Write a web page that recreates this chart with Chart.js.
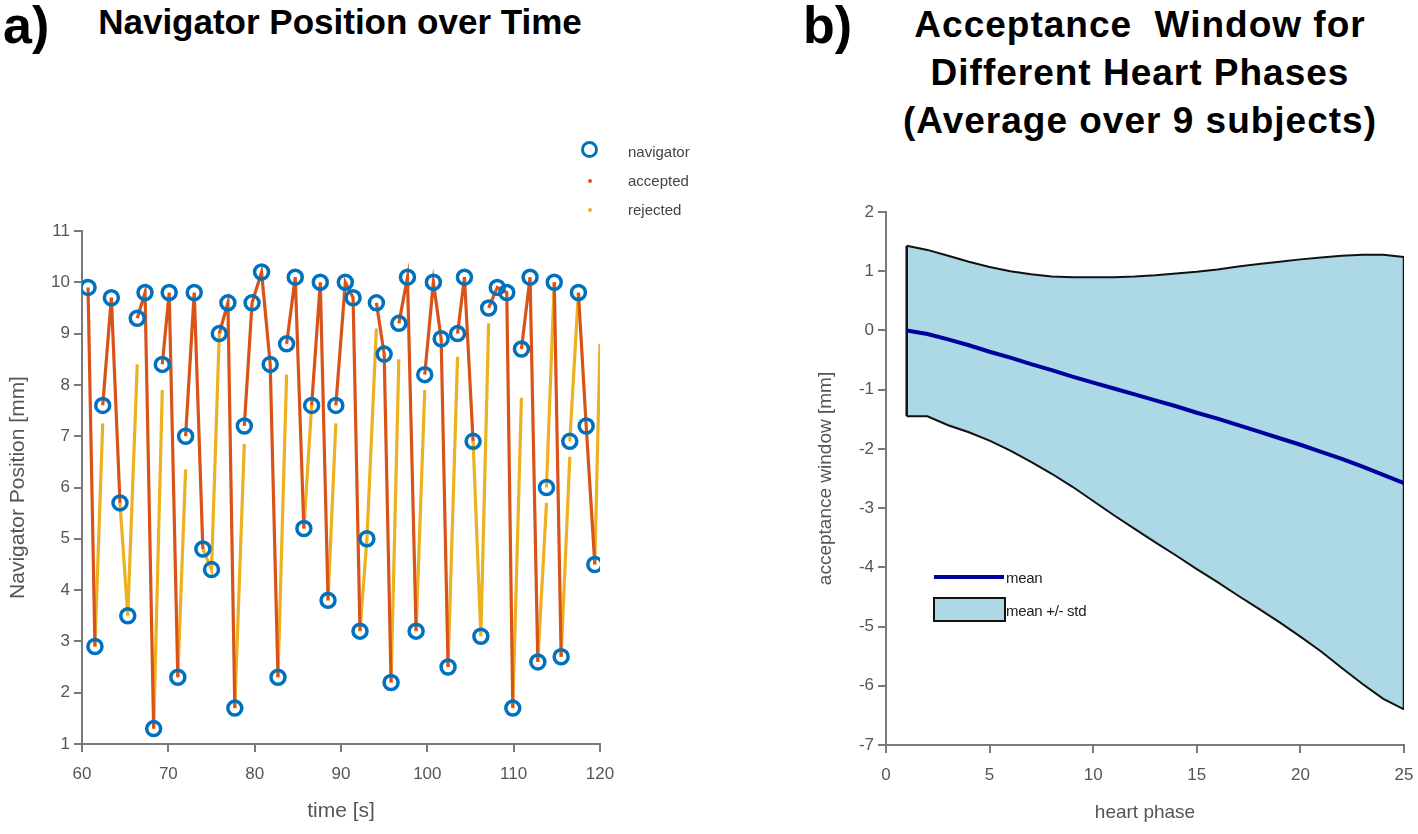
<!DOCTYPE html>
<html>
<head>
<meta charset="utf-8">
<script src="https://cdn.jsdelivr.net/npm/chart.js@4.4.1/dist/chart.umd.min.js"></script>
<style>
  html, body { margin: 0; padding: 0; background: #fff; }
  body { width: 1418px; height: 834px; position: relative; overflow: hidden; font-family: "Liberation Sans", Arial, sans-serif; }
  .abs { position: absolute; }
  .panel { font-weight: bold; font-size: 52px; color: #000; line-height: 1; }
  .title { font-weight: bold; color: #000; text-align: center; line-height: 48px; white-space: pre; }
  .lg { font-size: 15px; color: #444; line-height: 1; white-space: pre; }
  .lg2 { font-family: "Liberation Sans Narrow", "Liberation Sans", Arial, sans-serif; font-size: 15px; color: #222; line-height: 1; white-space: pre; letter-spacing: -0.3px; }
</style>
</head>
<body>
<script>
// ---------- Panel a) data ----------
const navTime = [60.7,61.5,62.4,63.4,64.4,65.3,66.4,67.3,68.3,69.3,70.1,71.1,72.0,73.0,74.0,75.0,75.9,76.9,77.7,78.8,79.7,80.8,81.8,82.7,83.7,84.7,85.7,86.6,87.6,88.5,89.4,90.5,91.4,92.2,93.0,94.1,95.0,95.8,96.7,97.7,98.7,99.7,100.7,101.6,102.4,103.5,104.3,105.3,106.2,107.1,108.1,109.2,109.9,110.9,111.9,112.8,113.8,114.7,115.5,116.5,117.5,118.4,119.4];
const navPos  = [9.9,2.9,7.6,9.7,5.7,3.5,9.3,9.8,1.3,8.4,9.8,2.3,7.0,9.8,4.8,4.4,9.0,9.6,1.7,7.2,9.6,10.2,8.4,2.3,8.8,10.1,5.2,7.6,10.0,3.8,7.6,10.0,9.7,3.2,5.0,9.6,8.6,2.2,9.2,10.1,3.2,8.2,10.0,8.9,2.5,9.0,10.1,6.9,3.1,9.5,9.9,9.8,1.7,8.7,10.1,2.6,6.0,10.0,2.7,6.9,9.8,7.2,4.5];

// accepted line pieces (null = break)
const acceptedTime = [60.7,61.5,null, 62.4,63.4,64.4,null, 66.4,67.3,68.3,null, 69.3,70.1,71.1,null, 72.0,73.0,74.0,null, 75.9,76.9,77.7,null, 78.8,79.7,80.8,81.8,82.7,null, 83.7,84.7,85.7,null, 86.6,87.6,88.5,null, 89.4,90.5,91.4,92.2,null, 94.1,95.0,95.8,null, 96.7,97.7,98.7,null, 99.7,100.7,101.6,102.4,null, 103.5,104.3,105.3,null, 107.1,108.1,109.2,109.9,null, 110.9,111.9,112.8,null, 114.7,115.5,null, 117.5,118.4,119.4];
const acceptedPos  = [9.9,2.9,null, 7.6,9.7,5.7,null, 9.3,9.8,1.3,null, 8.4,9.8,2.3,null, 7.0,9.8,4.8,null, 9.0,9.6,1.7,null, 7.2,9.6,10.2,8.4,2.3,null, 8.8,10.1,5.2,null, 7.6,10.0,3.8,null, 7.6,10.0,9.7,3.2,null, 9.6,8.6,2.2,null, 9.2,10.1,3.2,null, 8.2,10.0,8.9,2.5,null, 9.0,10.1,6.9,null, 9.5,9.9,9.8,1.7,null, 8.7,10.1,2.6,null, 10.0,2.7,null, 9.8,7.2,4.5];

// rejected line pieces (null = break)
const rejectedTime = [61.5,62.4,null, 64.4,65.3,66.4,null, 68.3,69.3,null, 71.1,72.0,null, 74.0,75.0,75.9,null, 77.7,78.8,null, 82.7,83.7,null, 85.7,86.6,null, 88.5,89.4,null, 92.2,93.0,94.1,null, 95.8,96.7,null, 98.7,99.7,null, 102.4,103.5,null, 105.3,106.2,107.1,null, 109.9,110.9,null, 112.8,113.8,null, 113.8,114.7,null, 115.5,116.5,null, 116.5,117.5,null, 119.4,120.0];
const rejectedPos  = [2.9,7.25,null, 5.7,3.5,8.4,null, 1.3,7.9,null, 2.3,6.35,null, 4.8,4.4,9.0,null, 1.7,6.85,null, 2.3,8.2,null, 5.2,7.6,null, 3.8,7.25,null, 3.2,5.0,9.1,null, 2.2,8.5,null, 3.2,7.9,null, 2.5,8.55,null, 6.9,3.1,9.2,null, 1.7,7.75,null, 2.6,5.7,null, 6.0,10.0,null, 2.7,6.6,null, 6.9,9.8,null, 4.5,8.8];

const timeTicks = [60,70,80,90,100,110,120];
const posTicks  = [1,2,3,4,5,6,7,8,9,10,11];

// ---------- Panel b) data ----------
const phase = [1,2,3,4,5,6,7,8,9,10,11,12,13,14,15,16,17,18,19,20,21,22,23,24,25];
const meanWin  = [0,-0.06,-0.15,-0.25,-0.36,-0.46,-0.57,-0.67,-0.78,-0.88,-0.98,-1.08,-1.18,-1.28,-1.39,-1.49,-1.6,-1.71,-1.82,-1.93,-2.05,-2.17,-2.3,-2.44,-2.58];
const upperWin = [1.43,1.36,1.26,1.16,1.07,1.0,0.95,0.91,0.9,0.9,0.9,0.91,0.93,0.96,0.99,1.03,1.08,1.12,1.16,1.2,1.23,1.26,1.28,1.28,1.24];
const lowerWin = [-1.45,-1.45,-1.6,-1.72,-1.86,-2.03,-2.22,-2.42,-2.64,-2.88,-3.12,-3.35,-3.58,-3.8,-4.03,-4.25,-4.48,-4.7,-4.93,-5.17,-5.42,-5.7,-5.97,-6.22,-6.4];
const phaseTicks = [0,5,10,15,20,25];
const winTicks = [-7,-6,-5,-4,-3,-2,-1,0,1,2];
</script>

<div class="abs panel" style="left:3px; top:-1px;">a)</div>
<div class="abs title" style="left:40px; top:-2px; width:600px; font-size:35px;">Navigator Position over Time</div>
<div class="abs panel" style="left:803px; top:-1px;">b)</div>
<div class="abs title" style="left:880px; top:1px; width:520px; font-size:37px; letter-spacing:1px;">Acceptance  Window for
Different Heart Phases
(Average over 9 subjects)</div>

<canvas id="ca" class="abs" style="left:0px; top:200px;" width="640" height="634"></canvas>
<canvas id="cb" class="abs" style="left:800px; top:180px;" width="640" height="654"></canvas>

<!-- legend a -->
<div class="abs" style="left:581px; top:141px; width:11px; height:11px; border:3.5px solid #0072BD; border-radius:50%;"></div>
<div class="abs lg" style="left:628px; top:144px;">navigator</div>
<div class="abs" style="left:588px; top:179px; width:4px; height:4px; background:#D95319; border-radius:50%;"></div>
<div class="abs lg" style="left:628px; top:173px;">accepted</div>
<div class="abs" style="left:588px; top:208px; width:4px; height:4px; background:#EDB120; border-radius:50%;"></div>
<div class="abs lg" style="left:628px; top:202px;">rejected</div>

<!-- legend b -->
<div class="abs" style="left:934px; top:575px; width:70px; height:4px; background:#00009C;"></div>
<div class="abs lg2" style="left:1006px; top:570px;">mean</div>
<div class="abs" style="left:933px; top:597px; width:69px; height:21px; background:#ADD8E6; border:2px solid #111;"></div>
<div class="abs lg2" style="left:1006px; top:603px;">mean +/- std</div>

<script>
const pts = (xs, ys) => xs.map((x, i) => ({x: x, y: ys[i]}));
const axisGray = '#7a7a7a';
const FAM = '"Liberation Sans", Arial, sans-serif';

function makeScale(min, max, ticksArr, titleText, isY, width, titlePad, titleSize, tickSize) {
  return {
    type: 'linear',
    min: min, max: max,
    afterBuildTicks: (s) => { s.ticks = ticksArr.map(v => ({value: v})); },
    afterFit: (s) => { if (isY) s.width = width; else s.height = width; },
    grid: {display: true, drawOnChartArea: false, drawTicks: true, tickLength: 8, color: axisGray, tickColor: axisGray, lineWidth: 2},
    border: {display: true, color: axisGray, width: 2},
    ticks: {color: '#555', font: {family: FAM, size: tickSize}, padding: isY ? 4 : 12, maxRotation: 0, autoSkip: false},
    title: {display: true, text: titleText, color: '#555', font: {family: FAM, size: titleSize}, padding: titlePad}
  };
}

Chart.defaults.animation = false;

new Chart(document.getElementById('ca'), {
  type: 'line',
  data: {
    datasets: [
      {label: 'navigator', data: pts(navTime, navPos), showLine: false, pointRadius: 7, pointBorderWidth: 3.5,
       pointBorderColor: '#0072BD', pointBackgroundColor: 'rgba(0,0,0,0)', order: 0},
      {label: 'accepted', data: pts(acceptedTime, acceptedPos), borderColor: '#D95319', borderWidth: 3.2,
       pointRadius: 0, spanGaps: false, fill: false, order: 1},
      {label: 'rejected', data: pts(rejectedTime, rejectedPos), borderColor: '#EDB120', borderWidth: 3.2,
       pointRadius: 0, spanGaps: false, fill: false, order: 2}
    ]
  },
  options: {
    responsive: false,
    devicePixelRatio: 1,
    layout: {autoPadding: false, padding: {top: 31, right: 40, left: 0, bottom: 0}},
    plugins: {legend: {display: false}, tooltip: {enabled: false}},
    scales: {
      x: makeScale(60, 120, timeTicks, 'time [s]', false, 90, {top: 0, bottom: 10}, 21, 17),
      y: makeScale(1, 11, posTicks, 'Navigator Position [mm]', true, 82, {top: 6, bottom: 0}, 21, 17)
    }
  }
});

new Chart(document.getElementById('cb'), {
  type: 'line',
  data: {
    datasets: [
      {label: 'mean', data: pts(phase, meanWin), borderColor: '#00009C', borderWidth: 4, pointRadius: 0, fill: false, order: 0},
      {label: 'mean +/- std', data: pts(phase, upperWin), borderColor: '#111', borderWidth: 2, pointRadius: 0,
       fill: '+1', backgroundColor: '#ADD8E6', order: 1},
      {label: 'lower', data: pts(phase, lowerWin), borderColor: '#111', borderWidth: 2, pointRadius: 0, fill: false, order: 2},
      {label: 'edges', data: [
          {x: phase[0], y: upperWin[0]}, {x: phase[0], y: lowerWin[0]}, {x: phase[0], y: null},
          {x: phase[phase.length-1], y: upperWin[upperWin.length-1]}, {x: phase[phase.length-1], y: lowerWin[lowerWin.length-1]}],
       borderColor: '#111', borderWidth: 2.5, pointRadius: 0, fill: false, spanGaps: false, order: 1}
    ]
  },
  options: {
    responsive: false,
    devicePixelRatio: 1,
    layout: {autoPadding: false, padding: {top: 32, right: 36, left: 0, bottom: 0}},
    plugins: {legend: {display: false}, tooltip: {enabled: false}, filler: {drawTime: 'beforeDatasetsDraw'}},
    scales: {
      x: makeScale(0, 25, phaseTicks, 'heart phase', false, 89, {top: 0, bottom: 10}, 19, 17),
      y: makeScale(-7, 2, winTicks, 'acceptance window [mm]', true, 86, {top: 14, bottom: 0}, 19, 17)
    }
  }
});
</script>
</body>
</html>
